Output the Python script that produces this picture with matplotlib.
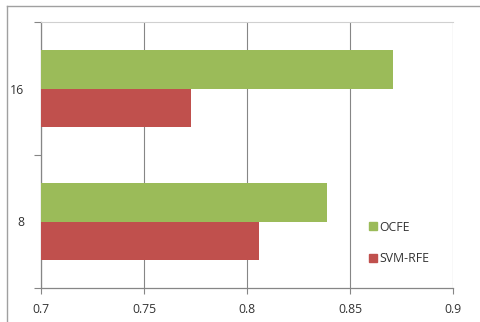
import matplotlib.pyplot as plt
from matplotlib.patches import Patch
from matplotlib.lines import Line2D

categories = ["8", "16"]
ocfe = [0.839, 0.871]
svm_rfe = [0.806, 0.773]
xticks = [0.7, 0.75, 0.8, 0.85, 0.9]
xtick_labels = ["0.7", "0.75", "0.8", "0.85", "0.9"]

green = "#9BBB59"
red = "#C0504D"
grid_col = "#868686"

plt.rcParams['font.family'] = ['Open Sans', 'DejaVu Sans']

fig = plt.figure(figsize=(4.8, 3.22), dpi=100)
ax = fig.add_axes([41 / 480, 1 - 288 / 322, 412 / 480, 266 / 322])

h = 0.286
ypos = list(range(len(categories)))
ax.barh([y + h / 2 for y in ypos], [v - 0.7 for v in ocfe], left=0.7,
        height=h, color=green, label="OCFE", zorder=3)
ax.barh([y - h / 2 for y in ypos], [v - 0.7 for v in svm_rfe], left=0.7,
        height=h, color=red, label="SVM-RFE", zorder=3)

ax.set_xlim(0.7, 0.9)
ax.set_ylim(-0.5, 1.5)
ax.set_xticks(xticks)
ax.set_xticklabels(xtick_labels, fontsize=8.8, color="#333333")
ax.set_yticks(ypos)
ax.set_yticklabels(categories, fontsize=8.8, color="#333333")
ax.set_yticks([-0.5, 0.5, 1.5], minor=True)
ax.tick_params(axis="y", which="major", length=0, pad=12)
ax.tick_params(axis="y", which="minor", length=5, color=grid_col, width=0.8)
ax.tick_params(axis="x", length=4, color=grid_col, width=0.8, pad=7)
ax.grid(axis="x", color=grid_col, lw=0.8, zorder=0)

for side in ["left", "bottom"]:
    ax.spines[side].set_color(grid_col)
    ax.spines[side].set_linewidth(0.9)
ax.spines["right"].set_visible(False)
ax.spines["top"].set_color("#d0d0d0")
ax.spines["top"].set_linewidth(0.8)

handles = [Patch(color=green, label="OCFE"), Patch(color=red, label="SVM-RFE")]
ax.legend(handles=handles, loc="center left", bbox_to_anchor=(0.77, 0.17),
          frameon=False, fontsize=8.8, handlelength=0.6, handleheight=0.6,
          handletextpad=0.25, labelspacing=1.5, labelcolor="#333333")

# chart area outline on the left and top
fig.add_artist(Line2D([7 / 480, 7 / 480], [0, 1 - 6 / 322], color="#a0a0a0", lw=1))
fig.add_artist(Line2D([7 / 480, 1], [1 - 6 / 322, 1 - 6 / 322], color="#a0a0a0", lw=1))

fig.savefig("out.png", dpi=100)
